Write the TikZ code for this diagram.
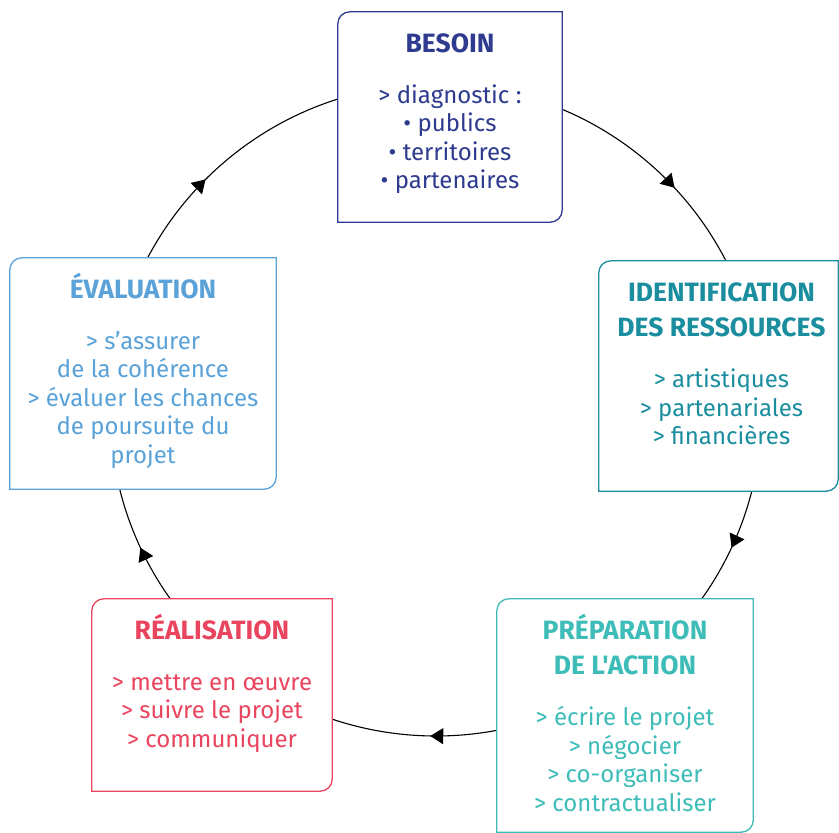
\documentclass[tikz,border=0pt]{standalone}
\usepackage{fontspec}
\setmainfont{Fira Sans}[Ligatures=TeXOff]
\usetikzlibrary{positioning,calc,arrows.meta,decorations.markings}
\definecolor{BNavy}{HTML}{2E3B8E}
\definecolor{IPetrol}{HTML}{1A8E9E}
\definecolor{PLagoon}{HTML}{3DBCB8}
\definecolor{RCoral}{HTML}{E9455F}
\definecolor{ESky}{HTML}{5AA2D8}
\tikzset{
    card/.style = {rectangle, inner sep=0pt, draw=none},
    cardtext/.style = {inner sep=0pt, align=center,
        font=\fontsize{24}{28.5}\selectfont},
    loop/.style = {line width=1.1pt, black},
    tip/.style = {decoration={markings,
        mark=at position 0.0694 with {\arrow{Triangle[length=13pt,width=16pt]}},
        mark=at position 0.2528 with {\arrow{Triangle[length=13pt,width=16pt]}},
        mark=at position 0.4306 with {\arrow{Triangle[length=13pt,width=16pt]}},
        mark=at position 0.6250 with {\arrow{Triangle[length=13pt,width=16pt]}},
        mark=at position 0.8806 with {\arrow{Triangle[length=13pt,width=16pt]}}},
        postaction=decorate}
}
\newcommand{\steptitle}[1]{{\fontsize{26.5}{36}\selectfont\bfseries\rule{0pt}{26pt}#1}}
\def\cardedge#1{%
    (#1.north) [sharp corners] -- (#1.north east) [rounded corners=12pt] -- (#1.south east) [sharp corners] -- (#1.south west) [rounded corners=12pt] -- (#1.north west) [sharp corners] -- cycle
}

\begin{document}
\begin{tikzpicture}[x=1pt, y=1pt]
        \useasboundingbox (0,0) rectangle (839,-833);
        \coordinate (hub) at (436,-410);
        \draw [loop, tip] (hub) ++(0:326) arc[start angle=0, end angle=-360, radius=326];
        % the five cards of the cycle
        \foreach \n/\c/\x/\y/\w/\h in {besoin/BNavy/450/-117/224/210,
                ressources/IPetrol/718.5/-376/239/230,
                preparation/PLagoon/625/-715.5/256/233,
                realisation/RCoral/212/-695/240/192,
                evaluation/ESky/143/-373.5/266/231}{
            \node [card, minimum width=\w pt, minimum height=\h pt] (\n) at (\x,\y) {};
            \filldraw [draw=\c, fill=white, line width=1.3pt] \cardedge{\n};
        }
        \node [cardtext, text=BNavy, below=14pt of besoin.north] (besointext)
            {\steptitle{BESOIN}\\[22.5pt] > diagnostic :\\ • publics\\ • territoires\\ • partenaires};
        \node [cardtext, text=IPetrol, below=14pt of ressources.north, xshift=3pt] (ressourcestext)
            {\steptitle{IDENTIFICATION}\\[7pt] \steptitle{DES RESSOURCES}\\[22.5pt] > artistiques\\ > partenariales\\ > financières};
        \node [cardtext, text=PLagoon, below=14pt of preparation.north] (preparationtext)
            {\steptitle{PRÉPARATION}\\[7pt] \steptitle{DE L'ACTION}\\[22.5pt] > écrire le projet\\ > négocier\\ > co-organiser\\ > contractualiser};
        \node [cardtext, text=RCoral, below=14pt of realisation.north] (realisationtext)
            {\steptitle{RÉALISATION}\\[22.5pt] > mettre en œuvre\\ > suivre le projet\\ > communiquer};
        \node [cardtext, text=ESky, below=14pt of evaluation.north] (evaluationtext)
            {\steptitle{ÉVALUATION}\\[22.5pt] > s’assurer\\ de la cohérence\\ > évaluer les chances\\ de poursuite du\\ projet};
\end{tikzpicture}
\end{document}
